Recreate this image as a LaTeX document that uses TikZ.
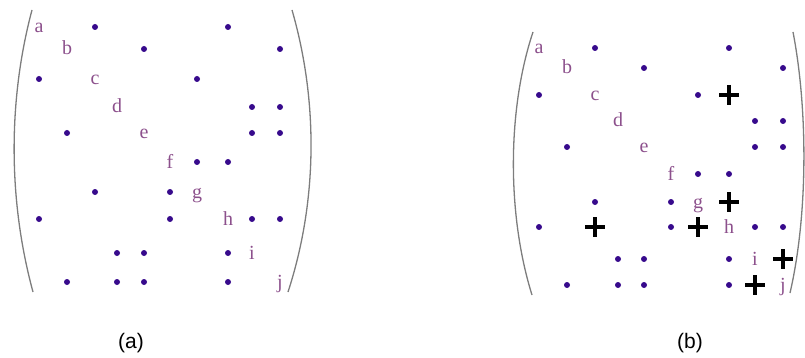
\documentclass[tikz,border=0pt]{standalone}
\usepackage{fontspec}
\setmainfont{Liberation Serif}
\newfontfamily\capfont{Liberation Sans}
\definecolor{dotcol}{RGB}{55,10,140}
\definecolor{lettercol}{RGB}{140,80,140}
\definecolor{parcol}{RGB}{125,125,125}
\begin{document}
\begin{tikzpicture}[x=1pt,y=-1pt,
  dotnode/.style={circle,fill=dotcol,inner sep=0pt,minimum size=6pt},
  letternode/.style={inner sep=0pt,anchor=base,text=lettercol,font=\fontsize{20}{20}\selectfont,yshift=-6pt},
  parline/.style={draw=parcol,line width=1.3pt},
  plusline/.style={draw=black,line width=3.6pt},
  capnode/.style={font=\capfont\fontsize{21}{21}\selectfont,inner sep=0pt}]
\useasboundingbox (0,0) rectangle (805,358);
% grid coordinates
\def\LX{{39,67,95,117,144,170,197,228,252,280}}
\def\LY{{27,49,79,107,133,162,192,219,253,282}}
\def\RX{{539,567,595,618,644,671,698,729,755,783}}
\def\RY{{48,68,95,121,147,174,202,227,259,285}}
% dots
\foreach \r/\cols in {1/{3,8},2/{5,10},3/{1,7},4/{9,10},5/{2,9,10},6/{7,8},7/{3,6},8/{1,6,9,10},9/{4,5,8},10/{2,4,5,8}}{
  \foreach \c in \cols {
    \node[dotnode] (L-\r-\c) at ({\LX[\c-1]},{\LY[\r-1]}) {};
    \node[dotnode] (R-\r-\c) at ({\RX[\c-1]},{\RY[\r-1]}) {};
  }
}
% diagonal letters
\foreach \k/\t in {1/a,2/b,3/c,4/d,5/e,6/f,7/g,8/h,9/i,10/j}{
  \node[letternode] (L-\t) at ({\LX[\k-1]},{\LY[\k-1]}) {\t};
  \node[letternode] (R-\t) at ({\RX[\k-1]},{\RY[\k-1]}) {\t};
}
% plus marks (fill-in)
\foreach \r/\c in {3/8,8/3,7/8,8/7,9/10,10/9}{
  \coordinate (P-\r-\c) at ({\RX[\c-1]},{\RY[\r-1]});
  \draw[plusline] (P-\r-\c) ++(-10,0) -- ++(20,0) (P-\r-\c) ++(0,-10) -- ++(0,20);
}
% parentheses
\draw[parline] (32,10) .. controls (8,100) and (8,200) .. (33,292);
\draw[parline] (292,10) .. controls (318,100) and (318,200) .. (288,292);
\draw[parline] (533,32) .. controls (507,110) and (507,215) .. (532,295);
\draw[parline] (793,32) .. controls (808,110) and (808,215) .. (790,293);
% captions
\node[capnode] (capa) at (131,343) {(a)};
\node[capnode] (capb) at (690,343) {(b)};
\end{tikzpicture}
\end{document}
